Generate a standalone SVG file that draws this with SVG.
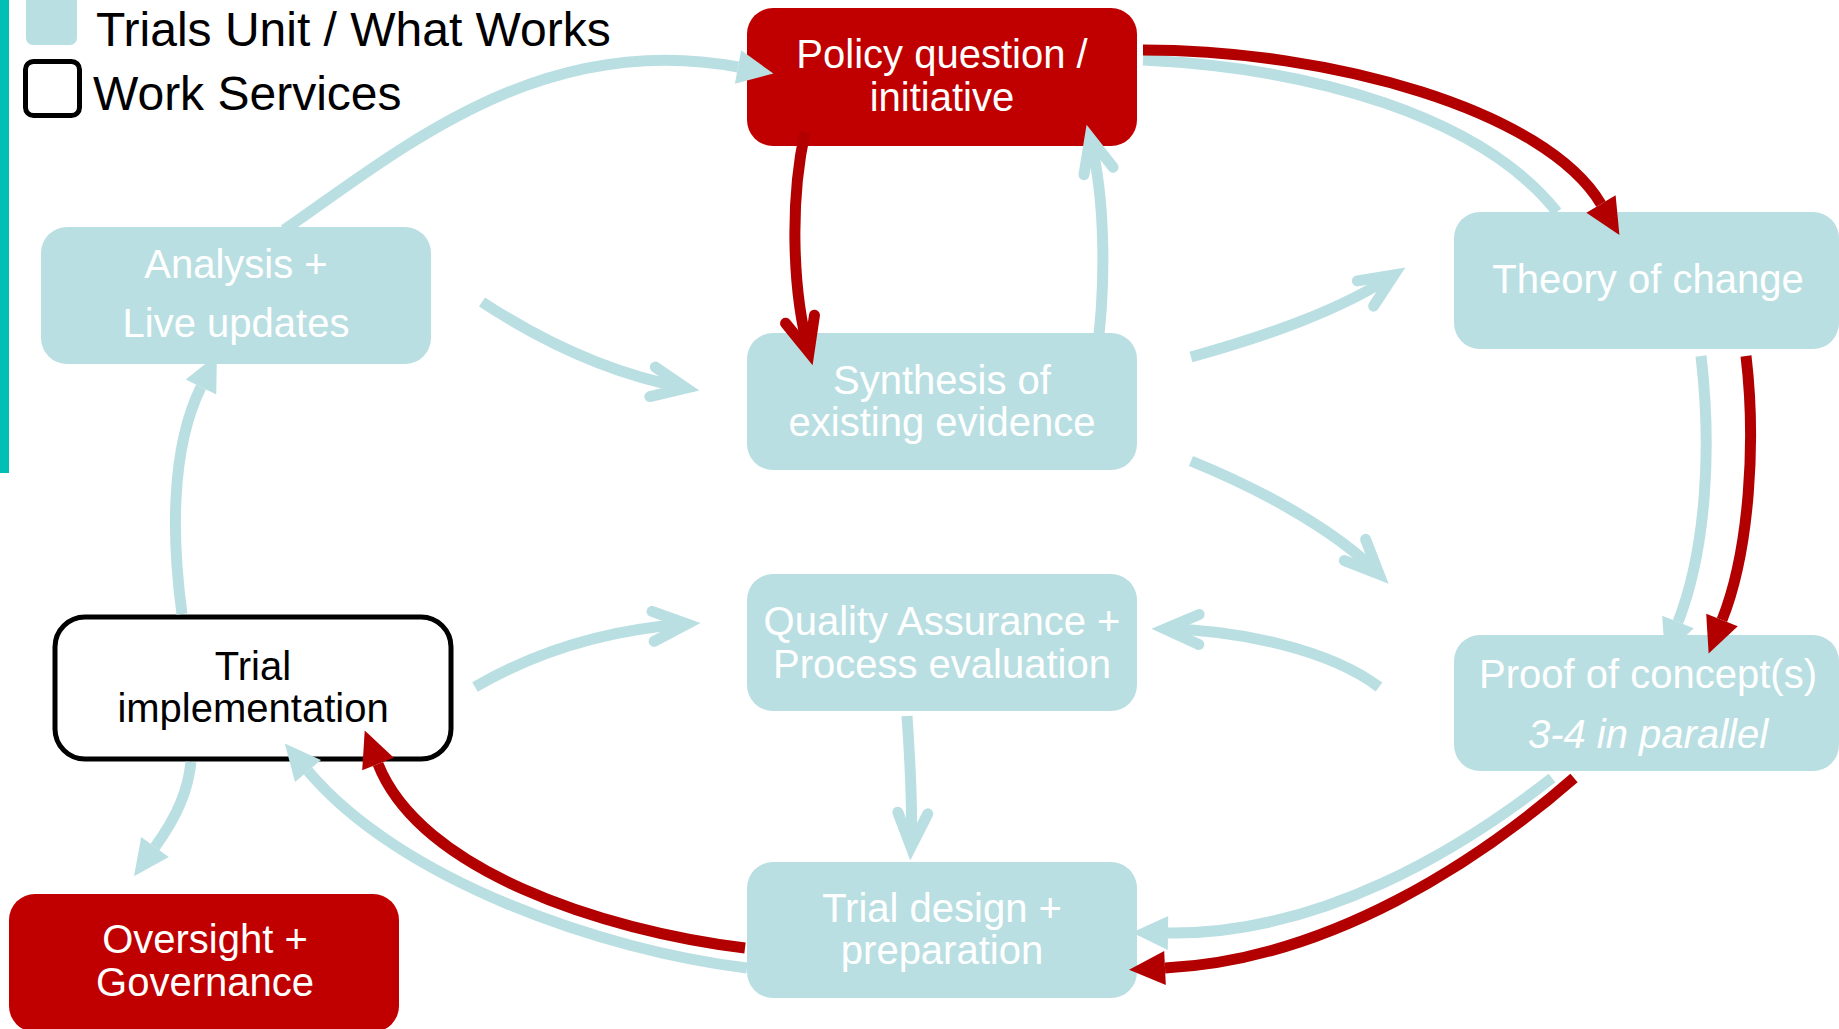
<svg xmlns="http://www.w3.org/2000/svg" width="1839" height="1029" viewBox="0 0 1839 1029">
  <style>
    .tu { fill: #BADFE2; }
    .red { fill: #C00000; }
    .ws { fill: #FFFFFF; stroke: #000000; stroke-width: 5; }
    .lbl { font-family: "Liberation Sans", Arial, sans-serif; font-size: 40px; text-anchor: middle; fill: #FFFFFF; }
    .dark { fill: #000000; }
    .legend { font-family: "Liberation Sans", Arial, sans-serif; font-size: 48px; fill: #000000; }
    .c-teal { fill: none; stroke: #BADFE2; stroke-width: 11; }
    .c-red { fill: none; stroke: #B20000; stroke-width: 11; }
    .tri-t { marker-end: url(#tri-teal); }
    .chev-t { marker-end: url(#chev-teal); }
    .tri-r { marker-end: url(#tri-red); }
    .chev-r { marker-end: url(#chev-red); }
  </style>
  <defs>
    <marker id="tri-teal" markerUnits="userSpaceOnUse" viewBox="-2 -20 42 40" refX="0" refY="0" markerWidth="42" markerHeight="40" orient="auto">
      <path d="M0,-17 L36,0 L0,17 Z" fill="#BADFE2"/>
    </marker>
    <marker id="tri-red" markerUnits="userSpaceOnUse" viewBox="-2 -20 42 40" refX="0" refY="0" markerWidth="42" markerHeight="40" orient="auto">
      <path d="M0,-17 L36,0 L0,17 Z" fill="#B20000"/>
    </marker>
    <marker id="chev-teal" markerUnits="userSpaceOnUse" viewBox="-45 -25 65 50" refX="0" refY="0" markerWidth="65" markerHeight="50" orient="auto">
      <path d="M-34,-15 L0,0 L-34,15" fill="none" stroke="#BADFE2" stroke-width="11" stroke-linecap="round" stroke-linejoin="miter"/>
    </marker>
    <marker id="chev-red" markerUnits="userSpaceOnUse" viewBox="-45 -25 65 50" refX="0" refY="0" markerWidth="65" markerHeight="50" orient="auto">
      <path d="M-34,-15 L0,0 L-34,15" fill="none" stroke="#B20000" stroke-width="11" stroke-linecap="round" stroke-linejoin="miter"/>
    </marker>
  </defs>

  <rect width="1839" height="1029" fill="#FFFFFF"/>

  <!-- side accent bar -->
  <rect x="0" y="0" width="9" height="473" fill="#00BFB5"/>

  <!-- legend -->
  <g id="legend">
    <rect class="tu" x="26" y="-12" width="51" height="57" rx="7"/>
    <text class="legend" x="96" y="46">Trials Unit / What Works</text>
    <rect x="25.5" y="61.5" width="54" height="54" rx="8" fill="none" stroke="#000000" stroke-width="5"/>
    <text class="legend" x="93" y="110">Work Services</text>
  </g>

  <!-- nodes -->
  <g id="policy">
    <rect class="red" x="747" y="8" width="390" height="138" rx="26"/>
    <text class="lbl" x="942" y="68">Policy question /</text>
    <text class="lbl" x="942" y="111">initiative</text>
  </g>
  <g id="synthesis">
    <rect class="tu" x="747" y="333" width="390" height="137" rx="26"/>
    <text class="lbl" x="942" y="394">Synthesis of</text>
    <text class="lbl" x="942" y="436">existing evidence</text>
  </g>
  <g id="quality">
    <rect class="tu" x="747" y="574" width="390" height="137" rx="26"/>
    <text class="lbl" x="942" y="635">Quality Assurance +</text>
    <text class="lbl" x="942" y="678">Process evaluation</text>
  </g>
  <g id="trial-design">
    <rect class="tu" x="747" y="862" width="390" height="136" rx="26"/>
    <text class="lbl" x="942" y="922">Trial design +</text>
    <text class="lbl" x="942" y="964">preparation</text>
  </g>
  <g id="theory">
    <rect class="tu" x="1454" y="212" width="385" height="137" rx="26"/>
    <text class="lbl" x="1648" y="293">Theory of change</text>
  </g>
  <g id="proof">
    <rect class="tu" x="1454" y="635" width="385" height="136" rx="26"/>
    <text class="lbl" x="1648" y="688">Proof of concept(s)</text>
    <text class="lbl" x="1648" y="748" font-style="italic">3-4 in parallel</text>
  </g>
  <g id="analysis">
    <rect class="tu" x="41" y="227" width="390" height="137" rx="26"/>
    <text class="lbl" x="236" y="278">Analysis +</text>
    <text class="lbl" x="236" y="337">Live updates</text>
  </g>
  <g id="trial-implementation">
    <rect class="ws" x="55" y="617" width="396" height="142" rx="30"/>
    <text class="lbl dark" x="253" y="680">Trial</text>
    <text class="lbl dark" x="253" y="722">implementation</text>
  </g>
  <g id="oversight">
    <rect class="red" x="9" y="894" width="390" height="138" rx="26"/>
    <text class="lbl" x="205" y="953">Oversight +</text>
    <text class="lbl" x="205" y="996">Governance</text>
  </g>

  <!-- connectors -->
  <g id="connectors">
    <!-- Trials Unit flows -->
    <path class="c-teal tri-t" d="M284,230 C400,150 540,30 738,67"/>
    <path class="c-teal chev-t" d="M482,302 C540,340 610,374 686,388"/>
    <path class="c-teal chev-t" d="M1096,358 C1106,290 1106,200 1090,138"/>
    <path class="c-teal chev-t" d="M1191,357 C1270,335 1340,310 1394,275"/>
    <path class="c-teal chev-t" d="M1191,461 C1250,485 1330,525 1379,574"/>
    <path class="c-teal" d="M1143,60 C1310,68 1480,115 1557,212"/>
    <path class="c-teal tri-t" d="M1701,356 C1712,450 1706,550 1678,622"/>
    <path class="c-teal chev-t" d="M1379,687 C1330,650 1240,630 1165,629"/>
    <path class="c-teal tri-t" d="M1552,778 C1460,850 1320,935 1168,933"/>
    <path class="c-teal chev-t" d="M907,716 C910,760 913,810 911,847"/>
    <path class="c-teal chev-t" d="M475,687 C530,655 600,630 687,624"/>
    <path class="c-teal tri-t" d="M747,968 C600,950 400,880 308,771"/>
    <path class="c-teal tri-t" d="M182,614 C172,540 170,450 201,387"/>
    <path class="c-teal tri-t" d="M191,762 C188,790 178,815 155,847"/>
    <!-- policy-side flows -->
    <path class="c-red chev-r" d="M805,132 C790,200 792,290 809,352"/>
    <path class="c-red tri-r" d="M1143,50 C1330,50 1545,110 1601,204"/>
    <path class="c-red tri-r" d="M1746,356 C1756,440 1750,550 1722,620"/>
    <path class="c-red tri-r" d="M1574,778 C1480,860 1330,960 1165,968"/>
    <path class="c-red tri-r" d="M745,948 C600,930 420,870 378,764"/>
  </g>
</svg>
